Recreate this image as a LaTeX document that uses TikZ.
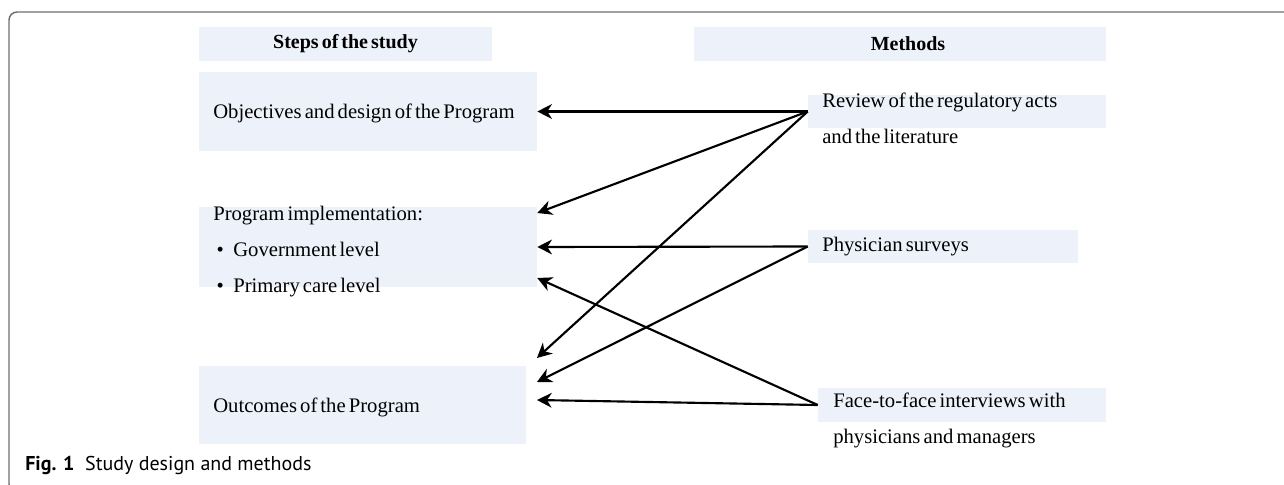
\documentclass[tikz,border=0pt]{standalone}
\usepackage{fontspec}
\setmainfont{Liberation Serif}[WordSpace=0.6]
\newfontfamily\capfont{PT Sans}
\usetikzlibrary{arrows.meta,calc}
\definecolor{boxblue}{HTML}{EDF2FA}
\definecolor{framegray}{HTML}{6E6E6E}

\begin{document}
\begin{tikzpicture}[x=0.75pt,y=-0.75pt,
    >={Stealth[length=11pt,width=11pt,inset=3.5pt]},
    box/.style={fill=boxblue,inner sep=0pt,minimum height=25.5pt},
    txt/.style={inner sep=0pt,anchor=west,align=left,
      font=\fontsize{15.5}{27}\selectfont},
    head/.style={inner sep=0pt,font=\fontsize{15}{18}\selectfont\bfseries},
    link/.style={->,line width=1.6pt}]
  \useasboundingbox (0,0) rectangle (1284,485);
  \clip (0,0) rectangle (1284,485);
  % outer frame
  \draw[framegray,line width=1.1pt,rounded corners=6pt]
    (1300,12) -- (9,12) -- (9,492) -- (40,492);
  % column headers
  \node[box,minimum width=219.75pt] (hsteps) at (345.5,44) {};
  \node[box,minimum width=309pt]    (hmeth)  at (900,44) {};
  \node[head] (tsteps) at (hsteps) {Steps of the study};
  \node[head] (tmeth)  at ([xshift=6pt]hmeth) {Methods};
  % steps of the study
  \node[box,minimum width=253.5pt,minimum height=59.25pt]  (obj)  at (368,111.5) {};
  \node[box,minimum width=253.5pt,minimum height=60pt]     (prog) at (368,247) {};
  \node[box,minimum width=245.25pt,minimum height=58.5pt]  (outc) at (362.5,405) {};
  \node[txt] (tobj)  at (213,113) {Objectives and design of the Program};
  \node[txt] (tprog) at (213,252) {Program implementation:\\
    \,\textbullet\hspace{7pt}Government level\\
    \,\textbullet\hspace{7pt}Primary care level};
  \node[txt] (toutc) at (213,407) {Outcomes of the Program};
  % methods
  \node[box,minimum width=223.5pt,minimum height=24.75pt] (rev)  at (957,111.5) {};
  \node[box,minimum width=202.5pt,minimum height=24.75pt] (phys) at (943,246.5) {};
  \node[box,minimum width=216pt] (face) at (962,405) {};
  \node[txt] (trev)  at (822,118.5) {Review of the regulatory acts\\and the literature};
  \node[txt] (tphys) at (822,247) {Physician surveys};
  \node[txt] (tface) at (833,420) {Face-to-face interviews with\\physicians and managers};
  % links from methods to steps
  \draw[link] (rev.west) -- (obj.east);
  \draw[link] (rev.west) -- ([yshift=25.5pt]prog.east);
  \draw[link] (rev.west) -- ([xshift=8pt,yshift=35.25pt]outc.east);
  \draw[link] (phys.west) -- (prog.east);
  \draw[link] (phys.west) -- ([xshift=8pt,yshift=17.25pt]outc.east);
  \draw[link] (face.west) -- ([yshift=-23.25pt]prog.east);
  \draw[link] (face.west) -- ([xshift=8pt,yshift=3.75pt]outc.east);
  % caption
  \node[inner sep=0pt,anchor=west,font=\capfont\fontsize{15}{18}\selectfont]
    (caption) at (25,465) {\textbf{Fig. 1}\hspace{8pt}Study design and methods};
\end{tikzpicture}
\end{document}
